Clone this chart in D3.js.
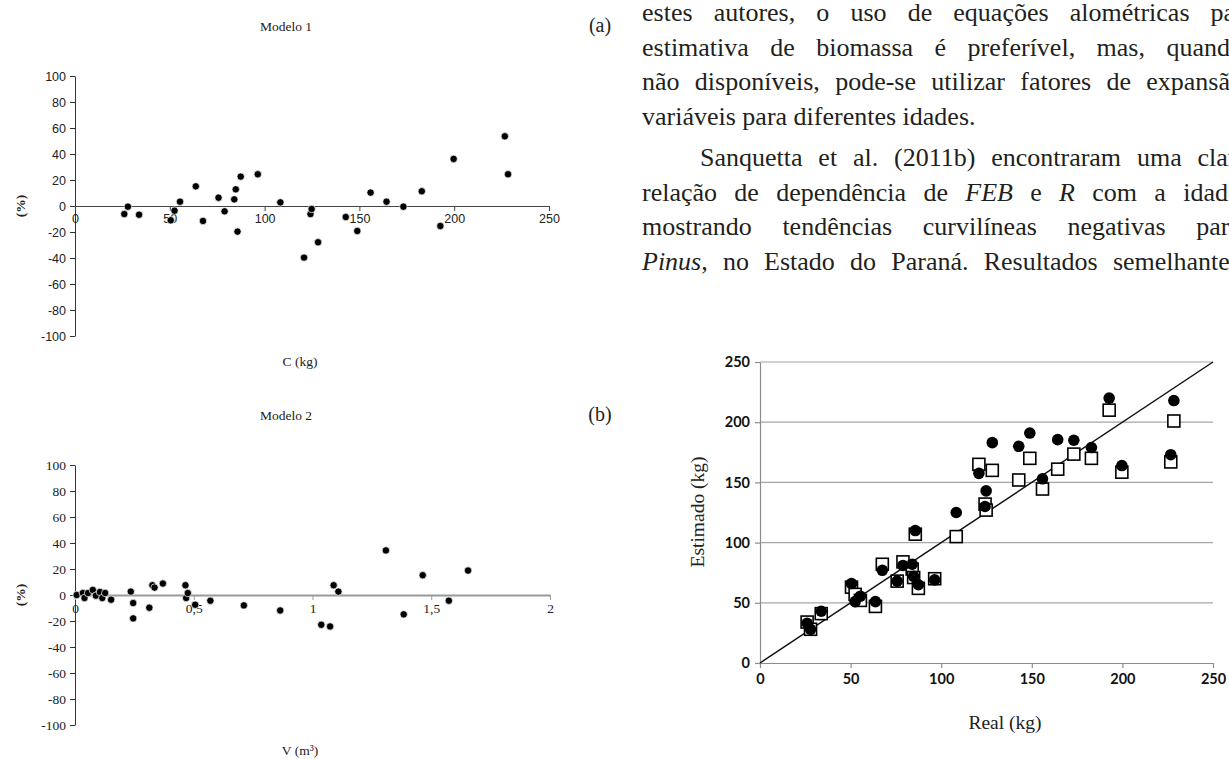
<!DOCTYPE html>
<html>
<head>
<meta charset="utf-8">
<script src="https://cdn.jsdelivr.net/npm/d3@7"></script>
<style>
  body { margin: 0; background: #fff; }
  svg { display: block; }
</style>
</head>
<body>
<svg id="page" width="1229" height="759"></svg>
<script>
// ---- data ----
const realKg = [26.0, 27.9, 33.8, 50.5, 52.5, 55.4, 63.7, 67.5, 75.7, 78.9,
                84.0, 84.8, 85.7, 87.4, 96.4, 108.3, 120.8, 124.2, 124.8, 128.2,
                142.8, 148.9, 155.9, 164.3, 173.2, 182.9, 192.7, 199.7, 226.7, 228.4];
const residModelo1 = [-6.2, -0.5, -6.7, -11.0, -3.6, 3.3, 15.1, -11.5, 6.4, -4.1,
                      5.1, 12.8, -19.7, 22.6, 24.4, 2.8, -39.7, -6.2, -2.3, -27.9,
                      -8.5, -19.2, 10.3, 3.3, -0.5, 11.3, -15.4, 36.2, 53.6, 24.4];
const volM3 = [0.007, 0.033, 0.040, 0.055, 0.075, 0.088, 0.105, 0.115, 0.127, 0.152,
               0.235, 0.245, 0.245, 0.313, 0.326, 0.335, 0.370, 0.465, 0.468, 0.475,
               0.506, 0.570, 0.711, 0.864, 1.037, 1.074, 1.089, 1.109, 1.309, 1.384,
               1.464, 1.574, 1.655];
const residModelo2 = [0, 1.5, -2.3, 1.5, 3.9, -0.5, 2.3, -2.3, 1.5, -3.6,
                      2.6, -6.2, -18.0, -9.8, 7.5, 5.7, 8.8, 7.5, -2.3, 1.5,
                      -7.5, -4.4, -8.0, -11.9, -22.9, -24.2, 7.5, 2.6, 34.3, -14.9,
                      15.2, -4.4, 18.8];
const estCirculo = [33, 28, 43, 66, 51, 55.5, 51, 77, 68, 81,
                    82, 72, 110, 65, 69, 125, 157.5, 130, 143, 183,
                    180, 191, 153, 185.5, 185, 179, 220, 164, 173, 218];
const estQuadrado = [34, 28, 41, 63, 57, 52, 47, 82, 68, 84,
                     78, 71, 107, 62, 70, 105, 165, 132, 127, 160,
                     152, 170, 144.5, 161, 173.5, 170, 210, 158.5, 167, 201];
const pctTicks = [-100, -80, -60, -40, -20, 0, 20, 40, 60, 80, 100];
const kgTicks = [0, 50, 100, 150, 200, 250];
const volTicks = [0, 0.5, 1, 1.5, 2];
const lineKg = [0, 250];

// body text next to the figure (it runs past the right edge of the page)
const paragraph = [
  { indent: false, right: 1288, segs: [['estes autores, o uso de equações alométricas para a', 0]] },
  { indent: false, right: 1243, segs: [['estimativa de biomassa é preferível, mas, quando', 0]] },
  { indent: false, right: 1243, segs: [['não disponíveis, pode-se utilizar fatores de expansão', 0]] },
  { indent: false, right: 0,    segs: [['variáveis para diferentes idades.', 0]] },
  { indent: true,  right: 1248, segs: [['Sanquetta et al. (2011b) encontraram uma clara', 0]] },
  { indent: false, right: 1246, segs: [['relação de dependência de ', 0], ['FEB', 1], [' e ', 0], ['R', 1], [' com a idade,', 0]] },
  { indent: false, right: 1241, segs: [['mostrando tendências curvilíneas negativas para', 0]] },
  { indent: false, right: 1240, segs: [['Pinus', 1], [', no Estado do Paraná. Resultados semelhantes', 0]] }
];

const SANS = '"Liberation Sans", Arial, sans-serif';
const SERIF = '"Liberation Serif", "Times New Roman", serif';

const svg = d3.select('#page');
svg.append('rect').attr('width', 1229).attr('height', 759).attr('fill', '#fff');

// ---- residual panels (a) and (b) ----
function residPanel(o) {
  const g = svg.append('g');
  const x = d3.scaleLinear().domain(o.xDomain).range([75, o.xRight]);
  const y = d3.scaleLinear().domain([-100, 100]).range([o.zeroY + 130, o.zeroY - 130]);

  const yAxis = g.append('g')
    .attr('transform', 'translate(75,0)')
    .call(d3.axisLeft(y).tickValues(pctTicks).tickSize(5).tickSizeOuter(0)
      .tickPadding(4).tickFormat(d => String(d)));
  yAxis.select('.domain').attr('stroke', '#333');
  yAxis.selectAll('.tick line').attr('stroke', '#333');
  yAxis.selectAll('text').attr('fill', '#222')
    .style('font-family', o.tickFont).style('font-size', o.tickSize + 'px');

  const xAxis = g.append('g')
    .attr('transform', 'translate(0,' + y(0) + ')')
    .call(d3.axisBottom(x).tickValues(o.xTicks).tickSize(5).tickSizeOuter(0)
      .tickPadding(3).tickFormat(o.xFormat));
  xAxis.select('.domain').attr('stroke', o.xAxisColor).attr('stroke-width', o.xAxisWidth);
  xAxis.selectAll('.tick line').attr('stroke', o.xAxisColor);
  xAxis.selectAll('text').attr('fill', '#222')
    .style('font-family', o.tickFont).style('font-size', o.tickSize + 'px');

  g.append('g').selectAll('circle')
    .data(o.xs)
    .join('circle')
    .attr('cx', d => x(d))
    .attr('cy', (d, i) => y(o.ys[i]))
    .attr('r', 3.7)
    .attr('fill', '#000')
    .attr('stroke', '#fff')
    .attr('stroke-width', 0.7);

  g.append('text').text(o.title)
    .attr('x', 286).attr('y', o.zeroY - 175)
    .attr('text-anchor', 'middle')
    .style('font-family', SERIF).style('font-size', '13.5px').attr('fill', '#222');
  g.append('text').text(o.tag)
    .attr('x', 600).attr('y', o.zeroY - 174)
    .attr('text-anchor', 'middle')
    .style('font-family', SERIF).style('font-size', '20px').attr('fill', '#222');
  g.append('text').text('(%)')
    .attr('transform', 'translate(20,' + o.zeroY + ') rotate(-90)')
    .attr('text-anchor', 'middle').attr('dy', '0.35em')
    .style('font-family', SERIF).style('font-size', '13.5px').style('font-weight', 'bold')
    .attr('fill', '#222');
  g.append('text').text(o.xLabel)
    .attr('x', 300).attr('y', o.zeroY + 160)
    .attr('text-anchor', 'middle')
    .style('font-family', SERIF).style('font-size', '13.5px').attr('fill', '#222');
}

residPanel({
  xs: realKg, ys: residModelo1, xDomain: [0, 250], xRight: 549, xTicks: kgTicks,
  xFormat: d => String(d), zeroY: 206, title: 'Modelo 1', tag: '(a)', xLabel: 'C (kg)',
  tickFont: SANS, tickSize: 12.5, xAxisColor: '#444', xAxisWidth: 1
});
residPanel({
  xs: volM3, ys: residModelo2, xDomain: [0, 2], xRight: 550, xTicks: volTicks,
  xFormat: d => String(d).replace('.', ','), zeroY: 595, title: 'Modelo 2', tag: '(b)',
  xLabel: 'V (m³)', tickFont: SERIF, tickSize: 13.5, xAxisColor: '#999', xAxisWidth: 2
});

// ---- estimated vs real (c) ----
(function () {
  const g = svg.append('g');
  const x = d3.scaleLinear().domain([0, 250]).range([760, 1213]);
  const y = d3.scaleLinear().domain([0, 250]).range([663, 362]);

  g.append('g').selectAll('line')
    .data(kgTicks.slice(1))
    .join('line')
    .attr('x1', x(0)).attr('x2', x(250))
    .attr('y1', d => y(d)).attr('y2', d => y(d))
    .attr('stroke', '#a6a6a6').attr('stroke-width', 1.2);

  const yAxis = g.append('g').attr('transform', 'translate(' + x(0) + ',0)')
    .call(d3.axisLeft(y).tickValues(kgTicks).tickSize(5).tickSizeOuter(0).tickPadding(5));
  const xAxis = g.append('g').attr('transform', 'translate(0,' + y(0) + ')')
    .call(d3.axisBottom(x).tickValues(kgTicks).tickSize(5).tickSizeOuter(0).tickPadding(6));
  [yAxis, xAxis].forEach(a => {
    a.select('.domain').attr('stroke', '#8c8c8c').attr('stroke-width', 1.2);
    a.selectAll('.tick line').attr('stroke', '#8c8c8c').attr('stroke-width', 1.2);
    a.selectAll('text').attr('fill', '#111')
      .style('font-family', 'Lato, "Open Sans", sans-serif')
      .style('font-size', '14.5px').style('font-weight', 'bold');
  });

  g.append('path')
    .datum(lineKg)
    .attr('d', d3.line().x(d => x(d)).y(d => y(d)))
    .attr('stroke', '#111').attr('stroke-width', 1.5).attr('fill', 'none');

  const s = 12;
  g.append('g').selectAll('rect')
    .data(realKg)
    .join('rect')
    .attr('x', d => x(d) - s / 2)
    .attr('y', (d, i) => y(estQuadrado[i]) - s / 2)
    .attr('width', s).attr('height', s)
    .attr('fill', '#fff').attr('stroke', '#000').attr('stroke-width', 1.6);

  g.append('g').selectAll('circle')
    .data(realKg)
    .join('circle')
    .attr('cx', d => x(d))
    .attr('cy', (d, i) => y(estCirculo[i]))
    .attr('r', 5.8)
    .attr('fill', '#000');

  g.append('text').text('Real (kg)')
    .attr('x', 1005).attr('y', 729)
    .attr('text-anchor', 'middle')
    .style('font-family', SERIF).style('font-size', '19.5px').attr('fill', '#222');
  g.append('text').text('Estimado (kg)')
    .attr('transform', 'translate(697,512) rotate(-90)')
    .attr('text-anchor', 'middle').attr('dy', '0.35em')
    .style('font-family', SERIF).style('font-size', '19.5px').attr('fill', '#222');
})();

// ---- body text on the right, justified and cut by the page edge ----
paragraph.forEach((ln, i) => {
  const x0 = ln.indent ? 700 : 642;
  const base = 21 + i * 34.5 + (i >= 4 ? 7 : 0);
  const t = svg.append('text')
    .attr('x', x0).attr('y', base)
    .style('font-family', SERIF).style('font-size', '26px').attr('fill', '#231f20')
    .attr('xml:space', 'preserve');
  ln.segs.forEach(sg => {
    t.append('tspan').text(sg[0]).style('font-style', sg[1] ? 'italic' : 'normal');
  });
  if (ln.right) {
    const natural = t.node().getComputedTextLength();
    const spaces = ln.segs.map(sg => sg[0]).join('').split(' ').length - 1;
    const extra = Math.max(0, (ln.right - x0 - natural) / spaces);
    t.style('word-spacing', extra + 'px');
  }
});
</script>
</body>
</html>
